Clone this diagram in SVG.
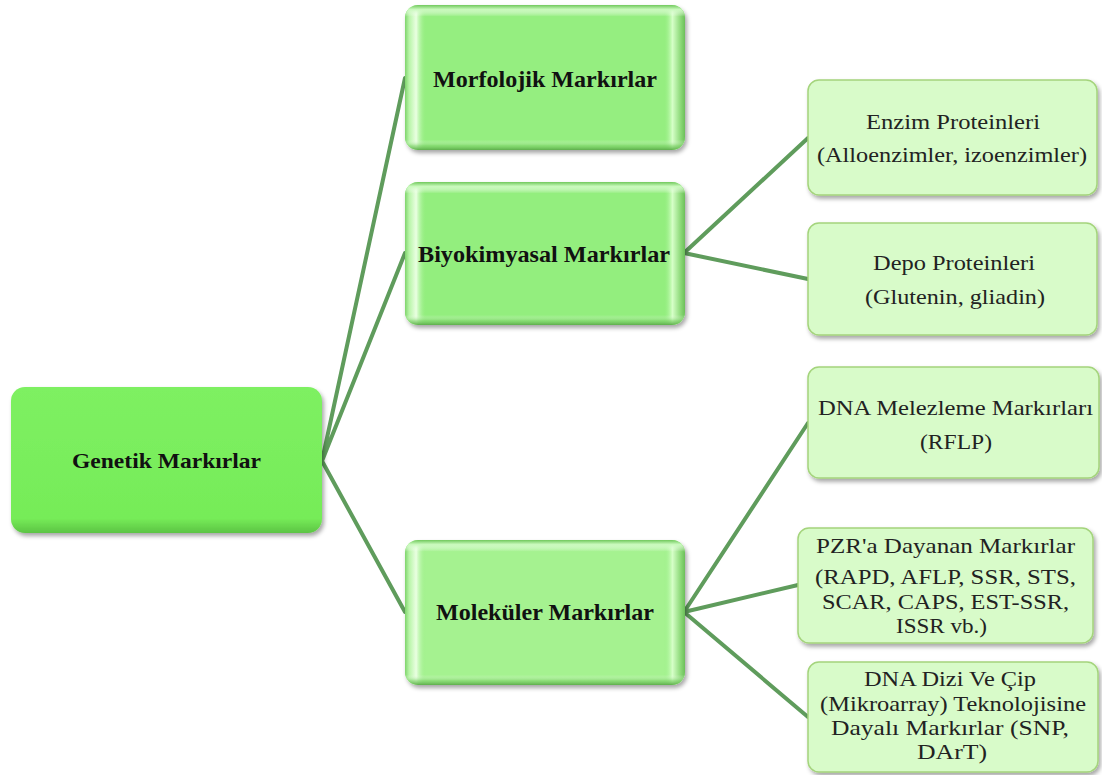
<svg xmlns="http://www.w3.org/2000/svg" width="1102" height="775" viewBox="0 0 1102 775">
<defs>
<filter id="sh" x="-10%" y="-10%" width="125%" height="130%">
<feDropShadow dx="2" dy="3" stdDeviation="2" flood-color="#000" flood-opacity="0.35"/>
</filter>
<linearGradient id="bevH" x1="0" y1="0" x2="1" y2="0">
<stop offset="0" stop-color="#7fd46c"/>
<stop offset="0.015" stop-color="#b8f5a8"/>
<stop offset="0.04" stop-color="#eaffe2"/>
<stop offset="0.075" stop-color="#96ee82" stop-opacity="0"/>
<stop offset="0.925" stop-color="#96ee82" stop-opacity="0"/>
<stop offset="0.955" stop-color="#d6ffc8"/>
<stop offset="0.985" stop-color="#8ad876"/>
<stop offset="1" stop-color="#6cbf5a"/>
</linearGradient>
<linearGradient id="bevV" x1="0" y1="0" x2="0" y2="1">
<stop offset="0" stop-color="#70c85c"/>
<stop offset="0.03" stop-color="#c8f9bb"/>
<stop offset="0.08" stop-color="#ffffff" stop-opacity="0"/>
<stop offset="0.93" stop-color="#ffffff" stop-opacity="0"/>
<stop offset="0.97" stop-color="#7cd068" stop-opacity="0.6"/>
<stop offset="1" stop-color="#5eae4c"/>
</linearGradient>
<linearGradient id="rootV" x1="0" y1="0" x2="0" y2="1">
<stop offset="0" stop-color="#7ef062"/>
<stop offset="0.9" stop-color="#76ec58"/>
<stop offset="1" stop-color="#5cc444"/>
</linearGradient>
</defs>
<style>
.l1{font-family:"Times New Roman","Liberation Serif",serif;font-weight:bold;font-size:22px;fill:#111;}
.l2{font-family:"Times New Roman","Liberation Serif",serif;font-weight:bold;font-size:23px;fill:#111;}
.l3{font-family:"Times New Roman","Liberation Serif",serif;font-size:22px;fill:#222;}
.l3s{font-family:"Times New Roman","Liberation Serif",serif;font-size:21px;fill:#222;}
.c{fill:none;stroke:#5f9c5c;stroke-width:4;stroke-linecap:round;stroke-linejoin:round;}
.b3{fill:#d8fbc9;stroke:#a4d47c;stroke-width:1.5;}
</style>
<rect width="1102" height="775" fill="#ffffff"/>
<g id="connectors">
<path class="c" d="M405,78 L322,461 L405,253 M322,461 L405,612"/>
<path class="c" d="M808,138 L684,253 L808,279"/>
<path class="c" d="M808,423 L684,612 L798,585 M684,612 L808,717"/>
</g>
<g id="genetik">
<rect x="11" y="387" width="311" height="146" rx="14" fill="url(#rootV)" filter="url(#sh)"/>
<text class="l1" x="166.5" y="468" text-anchor="middle" textLength="189" lengthAdjust="spacingAndGlyphs">Genetik Markırlar</text>
</g>
<g id="morfolojik">
<rect x="405" y="5" width="280" height="145" rx="13" fill="#95ee80" filter="url(#sh)"/>
<rect x="405" y="5" width="280" height="145" rx="13" fill="url(#bevH)"/>
<rect x="405" y="5" width="280" height="145" rx="13" fill="url(#bevV)"/>
<text class="l2" x="545" y="87" text-anchor="middle" textLength="224" lengthAdjust="spacingAndGlyphs">Morfolojik Markırlar</text>
</g>
<g id="biyokimyasal">
<rect x="405" y="182" width="280" height="143" rx="13" fill="#93ee7e" filter="url(#sh)"/>
<rect x="405" y="182" width="280" height="143" rx="13" fill="url(#bevH)"/>
<rect x="405" y="182" width="280" height="143" rx="13" fill="url(#bevV)"/>
<text class="l2" x="544" y="262" text-anchor="middle" textLength="252" lengthAdjust="spacingAndGlyphs">Biyokimyasal Markırlar</text>
</g>
<g id="molekuler">
<rect x="405" y="540" width="280" height="145" rx="13" fill="#a5f290" filter="url(#sh)"/>
<rect x="405" y="540" width="280" height="145" rx="13" fill="url(#bevH)"/>
<rect x="405" y="540" width="280" height="145" rx="13" fill="url(#bevV)"/>
<text class="l2" x="545" y="620" text-anchor="middle" textLength="218" lengthAdjust="spacingAndGlyphs">Moleküler Markırlar</text>
</g>
<g id="enzim">
<rect class="b3" x="808" y="80" width="289" height="115" rx="11" filter="url(#sh)"/>
<text class="l3" x="953" y="129" text-anchor="middle" textLength="174" lengthAdjust="spacingAndGlyphs">Enzim Proteinleri</text>
<text class="l3" x="952" y="162" text-anchor="middle" textLength="270" lengthAdjust="spacingAndGlyphs">(Alloenzimler, izoenzimler)</text>
</g>
<g id="depo">
<rect class="b3" x="808" y="223" width="289" height="112" rx="11" filter="url(#sh)"/>
<text class="l3" x="954" y="270" text-anchor="middle" textLength="162" lengthAdjust="spacingAndGlyphs">Depo Proteinleri</text>
<text class="l3" x="955" y="304" text-anchor="middle" textLength="180" lengthAdjust="spacingAndGlyphs">(Glutenin, gliadin)</text>
</g>
<g id="dna-melezleme">
<rect class="b3" x="808" y="367" width="291" height="111" rx="11" filter="url(#sh)"/>
<text class="l3" x="955.5" y="415" text-anchor="middle" textLength="275" lengthAdjust="spacingAndGlyphs">DNA Melezleme Markırları</text>
<text class="l3" x="956" y="449" text-anchor="middle" textLength="72" lengthAdjust="spacingAndGlyphs">(RFLP)</text>
</g>
<g id="pzr">
<rect class="b3" x="798" y="528" width="295" height="115" rx="11" filter="url(#sh)"/>
<text class="l3s" x="945.5" y="553" text-anchor="middle" textLength="259" lengthAdjust="spacingAndGlyphs">PZR'a Dayanan  Markırlar</text>
<text class="l3s" x="945.5" y="584" text-anchor="middle" textLength="261" lengthAdjust="spacingAndGlyphs">(RAPD, AFLP, SSR, STS,</text>
<text class="l3s" x="945.5" y="609" text-anchor="middle" textLength="247" lengthAdjust="spacingAndGlyphs">SCAR, CAPS, EST-SSR,</text>
<text class="l3s" x="941.5" y="633" text-anchor="middle" textLength="91" lengthAdjust="spacingAndGlyphs">ISSR vb.)</text>
</g>
<g id="dna-dizi">
<rect class="b3" x="808" y="662" width="290" height="110" rx="11" filter="url(#sh)"/>
<text class="l3s" x="950" y="686" text-anchor="middle" textLength="172" lengthAdjust="spacingAndGlyphs">DNA Dizi Ve Çip</text>
<text class="l3s" x="953" y="711" text-anchor="middle" textLength="266" lengthAdjust="spacingAndGlyphs">(Mikroarray) Teknolojisine</text>
<text class="l3s" x="950" y="735" text-anchor="middle" textLength="238" lengthAdjust="spacingAndGlyphs">Dayalı Markırlar (SNP,</text>
<text class="l3s" x="952" y="759" text-anchor="middle" textLength="70" lengthAdjust="spacingAndGlyphs">DArT)</text>
</g>
</svg>
